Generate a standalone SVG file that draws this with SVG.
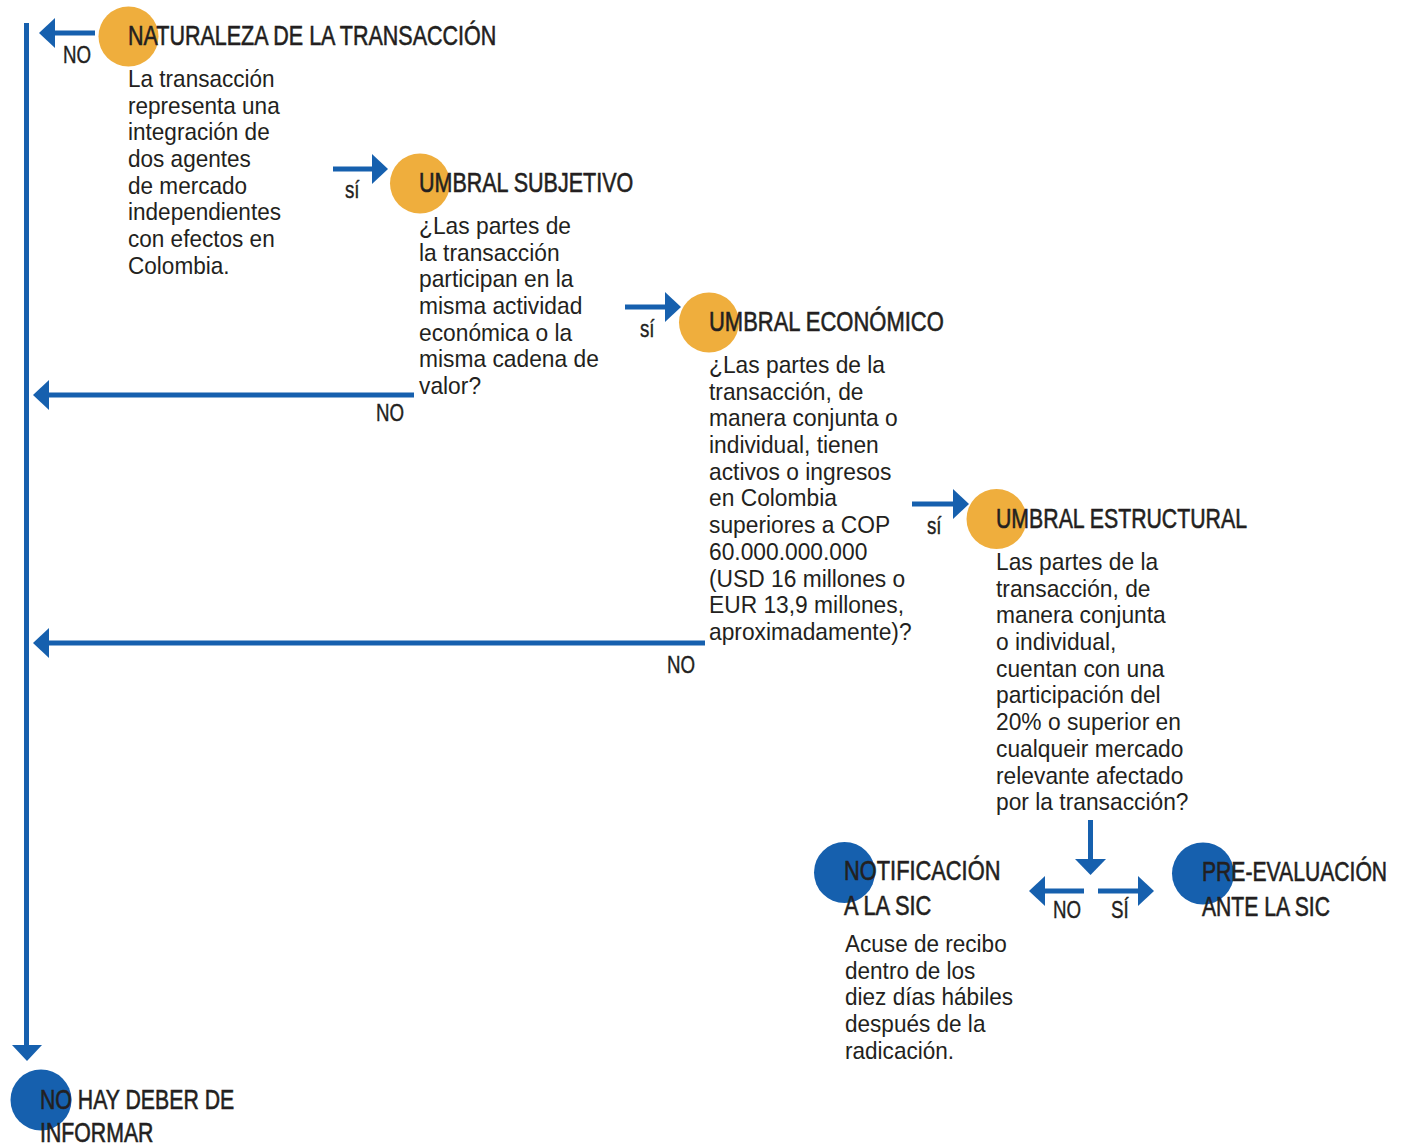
<svg xmlns="http://www.w3.org/2000/svg" width="1408" height="1146" viewBox="0 0 1408 1146">
<style>
text{font-family:"Liberation Sans",Arial,sans-serif;fill:#231f20}
.t{font-size:28px;stroke:#231f20;stroke-width:0.6}
.b{font-size:24px}
.l{font-size:24px;stroke:#231f20;stroke-width:0.4}
.ln{stroke:#1660ae;stroke-width:5;fill:none}
.hd{fill:#1660ae}
.or{fill:#efae3d}
.bl{fill:#1660ae}
</style>
<rect width="1408" height="1146" fill="#ffffff"/>
<g id="connectors">
<line class="ln" x1="26.5" y1="23" x2="26.5" y2="1047"/>
<polygon class="hd" points="12,1045 42,1045 27,1061"/>
<line class="ln" x1="95" y1="33" x2="52" y2="33"/>
<polygon class="hd" points="39,33 55,18 55,48"/>
<g transform="translate(63,63) scale(0.78,1)"><text class="l" x="0" y="0">NO</text></g>
<line class="ln" x1="333" y1="169" x2="376" y2="169"/>
<polygon class="hd" points="388,169 372,154 372,184"/>
<g transform="translate(345,198) scale(0.78,1)"><text class="l" x="0" y="0">sí</text></g>
<line class="ln" x1="414" y1="395" x2="46" y2="395"/>
<polygon class="hd" points="33,395 49,380 49,410"/>
<g transform="translate(376,421) scale(0.78,1)"><text class="l" x="0" y="0">NO</text></g>
<line class="ln" x1="625" y1="307" x2="668" y2="307"/>
<polygon class="hd" points="681,307 665,292 665,322"/>
<g transform="translate(640,337) scale(0.78,1)"><text class="l" x="0" y="0">sí</text></g>
<line class="ln" x1="705" y1="643" x2="46" y2="643"/>
<polygon class="hd" points="33,643 49,628 49,658"/>
<g transform="translate(667,673) scale(0.78,1)"><text class="l" x="0" y="0">NO</text></g>
<line class="ln" x1="912" y1="504" x2="956" y2="504"/>
<polygon class="hd" points="969,504 953,489 953,519"/>
<g transform="translate(927,534) scale(0.78,1)"><text class="l" x="0" y="0">sí</text></g>
<line class="ln" x1="1090.5" y1="820" x2="1090.5" y2="862"/>
<polygon class="hd" points="1075,859 1106,859 1090.5,875"/>
<line class="ln" x1="1084" y1="891" x2="1042" y2="891"/>
<polygon class="hd" points="1029,891 1045,876 1045,906"/>
<g transform="translate(1053,918) scale(0.78,1)"><text class="l" x="0" y="0">NO</text></g>
<line class="ln" x1="1098" y1="891" x2="1140" y2="891"/>
<polygon class="hd" points="1154,891 1138,876 1138,906"/>
<g transform="translate(1111,918) scale(0.78,1)"><text class="l" x="0" y="0">SÍ</text></g>
</g>
<g id="naturaleza">
<circle class="or" cx="128.5" cy="36.5" r="30"/>
<g transform="translate(128,45) scale(0.768,1)"><text class="t" x="0" y="0">NATURALEZA DE LA TRANSACCIÓN</text></g>
<g transform="translate(128,0) scale(0.94,1)"><text class="b">
<tspan x="0" y="87">La transacción</tspan>
<tspan x="0" y="113.7">representa una</tspan>
<tspan x="0" y="140.4">integración de</tspan>
<tspan x="0" y="167.1">dos agentes</tspan>
<tspan x="0" y="193.8">de mercado</tspan>
<tspan x="0" y="220.5">independientes</tspan>
<tspan x="0" y="247.2">con efectos en</tspan>
<tspan x="0" y="273.9">Colombia.</tspan>
</text></g>
</g>
<g id="subjetivo">
<circle class="or" cx="420" cy="183.5" r="30"/>
<g transform="translate(419,192) scale(0.768,1)"><text class="t" x="0" y="0">UMBRAL SUBJETIVO</text></g>
<g transform="translate(419,0) scale(0.95,1)"><text class="b">
<tspan x="0" y="234">¿Las partes de</tspan>
<tspan x="0" y="260.7">la transacción</tspan>
<tspan x="0" y="287.4">participan en la</tspan>
<tspan x="0" y="314.1">misma actividad</tspan>
<tspan x="0" y="340.8">económica o la</tspan>
<tspan x="0" y="367.5">misma cadena de</tspan>
<tspan x="0" y="394.2">valor?</tspan>
</text></g>
</g>
<g id="economico">
<circle class="or" cx="709" cy="322.5" r="30"/>
<g transform="translate(709,331) scale(0.785,1)"><text class="t" x="0" y="0">UMBRAL ECONÓMICO</text></g>
<g transform="translate(709,0) scale(0.95,1)"><text class="b">
<tspan x="0" y="373">¿Las partes de la</tspan>
<tspan x="0" y="399.7">transacción, de</tspan>
<tspan x="0" y="426.4">manera conjunta o</tspan>
<tspan x="0" y="453.1">individual, tienen</tspan>
<tspan x="0" y="479.8">activos o ingresos</tspan>
<tspan x="0" y="506.5">en Colombia</tspan>
<tspan x="0" y="533.2">superiores a COP</tspan>
<tspan x="0" y="559.9">60.000.000.000</tspan>
<tspan x="0" y="586.6">(USD 16 millones o</tspan>
<tspan x="0" y="613.3">EUR 13,9 millones,</tspan>
<tspan x="0" y="640">aproximadamente)?</tspan>
</text></g>
</g>
<g id="estructural">
<circle class="or" cx="996.5" cy="519" r="30"/>
<g transform="translate(996,528) scale(0.76,1)"><text class="t" x="0" y="0">UMBRAL ESTRUCTURAL</text></g>
<g transform="translate(996,0) scale(0.95,1)"><text class="b">
<tspan x="0" y="570">Las partes de la</tspan>
<tspan x="0" y="596.7">transacción, de</tspan>
<tspan x="0" y="623.4">manera conjunta</tspan>
<tspan x="0" y="650.1">o individual,</tspan>
<tspan x="0" y="676.8">cuentan con una</tspan>
<tspan x="0" y="703.5">participación del</tspan>
<tspan x="0" y="730.2">20% o superior en</tspan>
<tspan x="0" y="756.9">cualqueir mercado</tspan>
<tspan x="0" y="783.6">relevante afectado</tspan>
<tspan x="0" y="810.3">por la transacción?</tspan>
</text></g>
</g>
<g id="notificacion">
<circle class="bl" cx="844.5" cy="872.5" r="30.5"/>
<g transform="translate(844,0) scale(0.78,1)"><text class="t">
<tspan x="0" y="880">NOTIFICACIÓN</tspan>
<tspan x="0" y="915">A LA SIC</tspan>
</text></g>
<g transform="translate(845,0) scale(0.94,1)"><text class="b">
<tspan x="0" y="952">Acuse de recibo</tspan>
<tspan x="0" y="978.7">dentro de los</tspan>
<tspan x="0" y="1005.4">diez días hábiles</tspan>
<tspan x="0" y="1032.1">después de la</tspan>
<tspan x="0" y="1058.8">radicación.</tspan>
</text></g>
</g>
<g id="preevaluacion">
<circle class="bl" cx="1203" cy="873.5" r="31"/>
<g transform="translate(1202,0) scale(0.755,1)"><text class="t">
<tspan x="0" y="881">PRE-EVALUACIÓN</tspan>
<tspan x="0" y="916">ANTE LA SIC</tspan>
</text></g>
</g>
<g id="no-hay-deber">
<circle class="bl" cx="41" cy="1100" r="30.5"/>
<g transform="translate(40,0) scale(0.76,1)"><text class="t">
<tspan x="0" y="1109">NO HAY DEBER DE</tspan>
<tspan x="0" y="1142">INFORMAR</tspan>
</text></g>
</g>
</svg>
